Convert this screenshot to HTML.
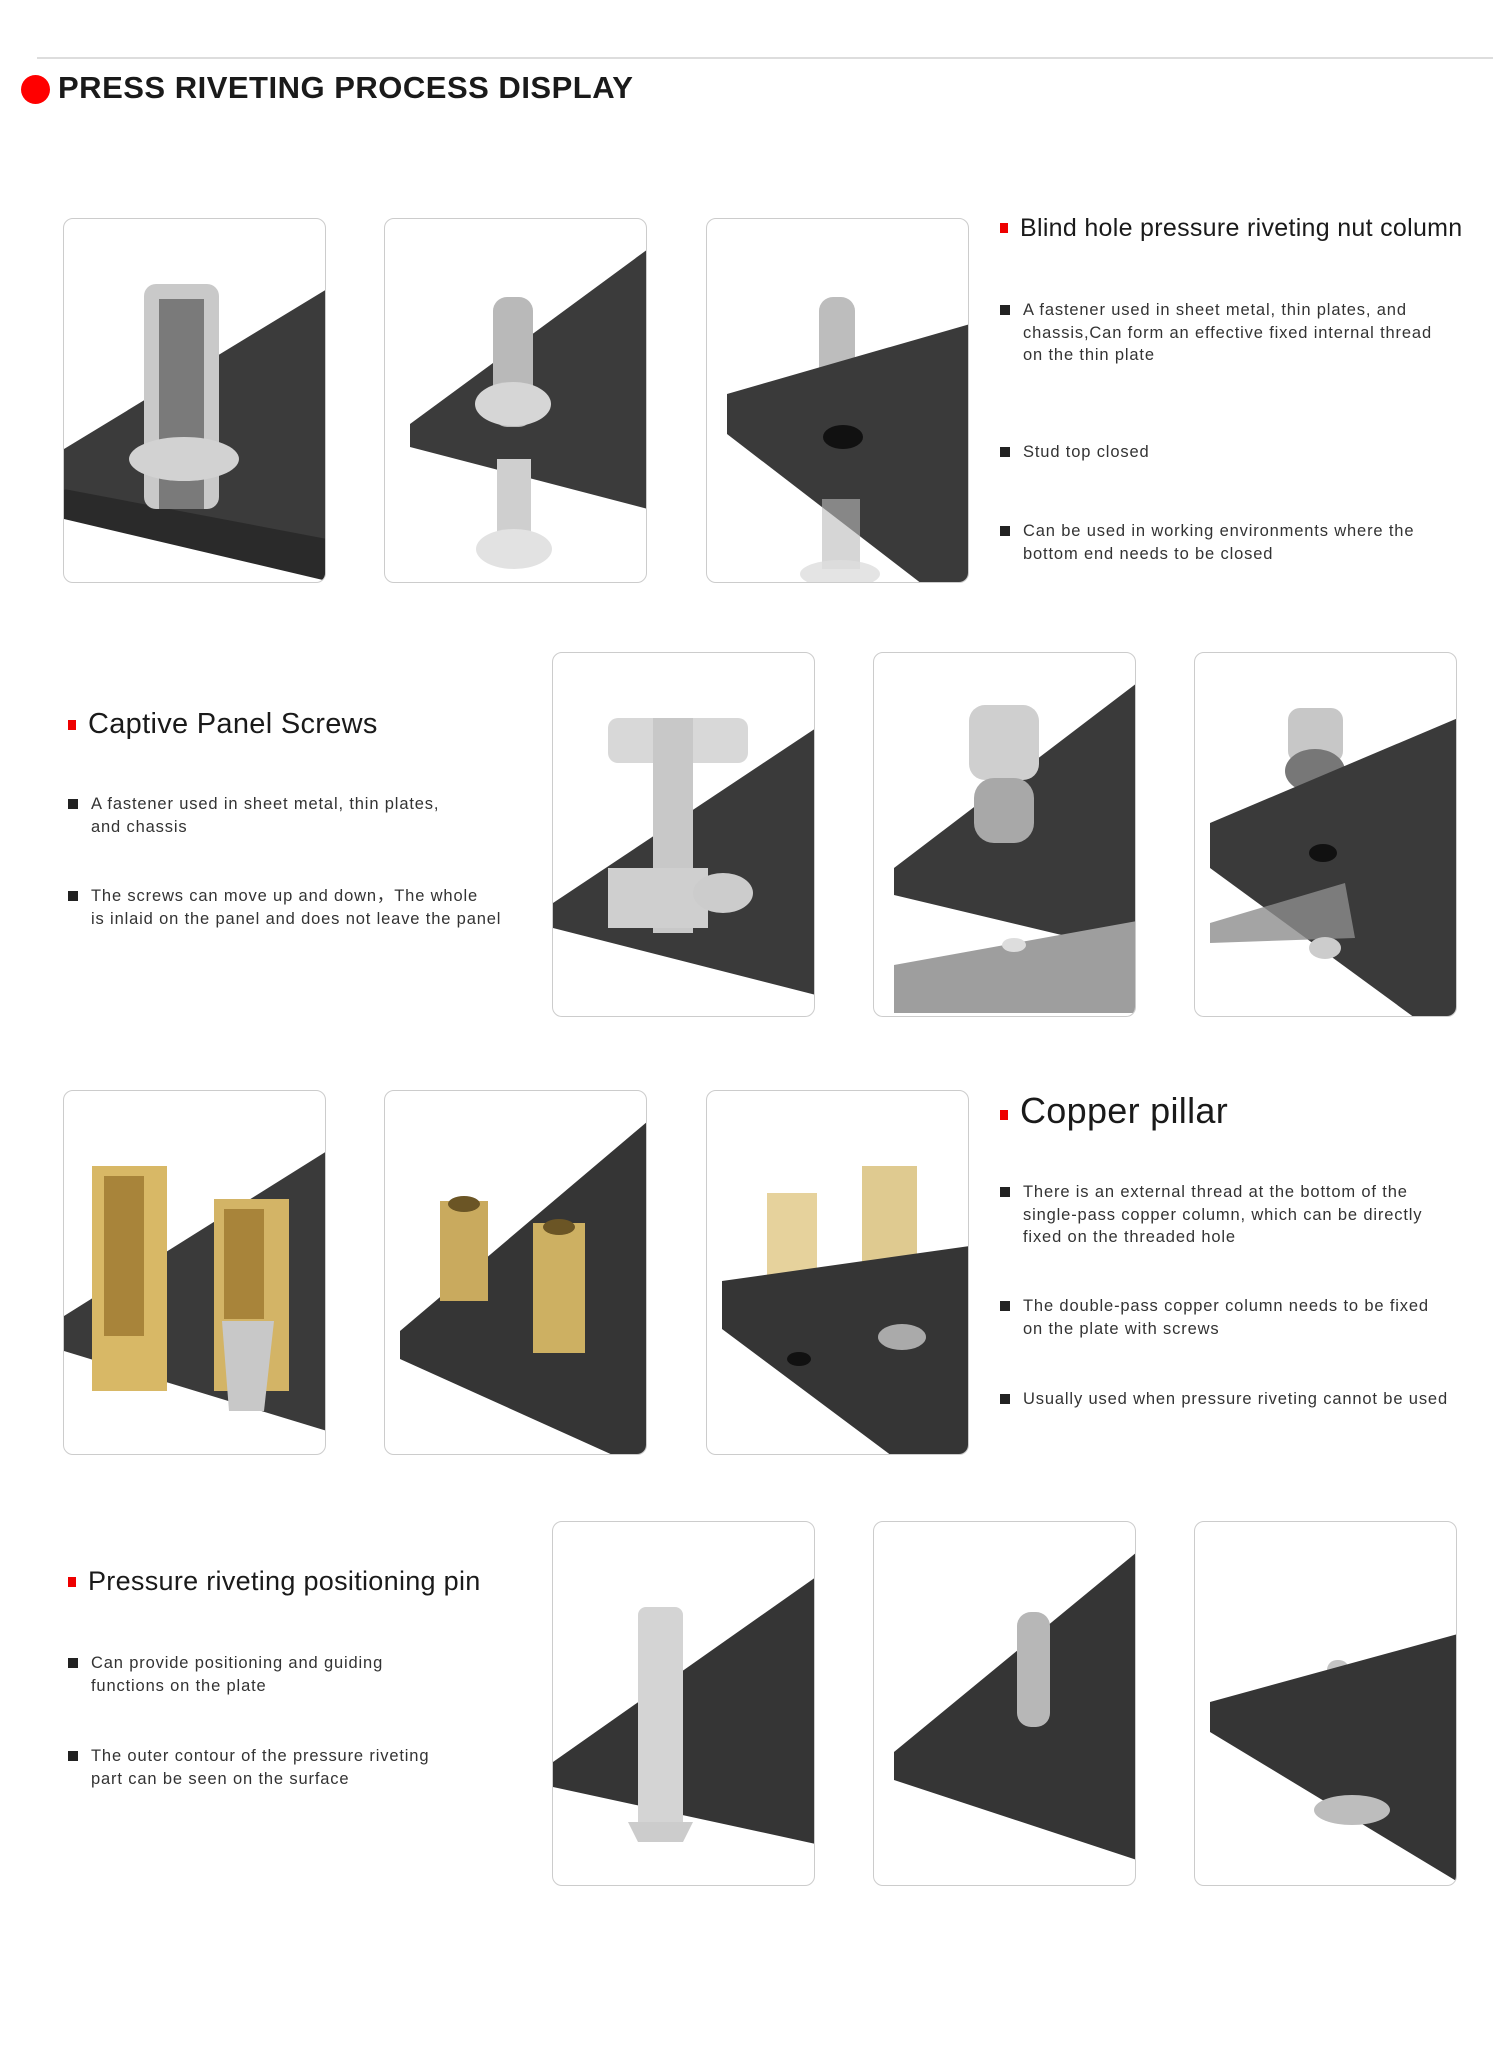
<!DOCTYPE html>
<html><head><meta charset="utf-8">
<style>
*{margin:0;padding:0;box-sizing:border-box}
body{width:1499px;height:2048px;background:#fff;position:relative;overflow:hidden;font-family:"Liberation Sans",sans-serif;color:#222}
.line{position:absolute;left:37px;top:57px;width:1456px;height:2px;background:#ddd}
.dot{position:absolute;left:21px;top:75px;width:29px;height:29px;border-radius:50%;background:#f00}
.title{position:absolute;left:58px;top:70px;font-size:31px;font-weight:bold;letter-spacing:0.5px;color:#1a1a1a}
.card{position:absolute;width:263px;height:365px;border:1.5px solid #ccc;border-radius:10px;overflow:hidden;background:#fff}
.card svg{display:block}
.h{position:absolute;font-size:25px;color:#1a1a1a;white-space:nowrap;letter-spacing:0.3px}
.h::before{content:"";display:inline-block;width:8px;height:10px;background:#e00;margin-right:12px;vertical-align:3px}
.b{position:absolute;font-size:16.5px;line-height:22.5px;color:#333;padding-left:23px;letter-spacing:0.85px;white-space:nowrap}
.b::before{content:"";position:absolute;left:0;top:6px;width:10px;height:10px;background:#222}
</style></head><body>
<div class="line"></div>
<div class="dot"></div>
<div class="title">PRESS RIVETING PROCESS DISPLAY</div>

<!-- row1 -->
<div class="card" style="left:63px;top:218px"><svg width="263" height="365"><polygon points="0,230 263,70 263,362 0,270" fill="#3b3b3b"/><polygon points="0,270 263,320 263,362 0,300" fill="#2a2a2a"/><rect x="80" y="65" width="75" height="225" rx="12" fill="#c9c9c9"/><rect x="95" y="80" width="45" height="210" fill="#7a7a7a"/><ellipse cx="120" cy="240" rx="55" ry="22" fill="#d2d2d2"/></svg></div>
<div class="card" style="left:384px;top:218px"><svg width="263" height="365"><polygon points="25,205 263,30 263,290 25,228" fill="#3b3b3b"/><rect x="108" y="78" width="40" height="130" rx="14" fill="#b9b9b9"/><ellipse cx="128" cy="185" rx="38" ry="22" fill="#d6d6d6"/><rect x="112" y="240" width="34" height="80" fill="#cfcfcf"/><ellipse cx="129" cy="330" rx="38" ry="20" fill="#e2e2e2"/></svg></div>
<div class="card" style="left:706px;top:218px"><svg width="263" height="365"><rect x="112" y="78" width="36" height="100" rx="14" fill="#bdbdbd"/><polygon points="20,175 263,105 263,365 215,365 20,215" fill="#3a3a3a"/><ellipse cx="136" cy="218" rx="20" ry="12" fill="#111"/><rect x="115" y="280" width="38" height="70" fill="#bbb" opacity=".6"/><ellipse cx="133" cy="355" rx="40" ry="14" fill="#ddd" opacity=".8"/></svg></div>
<div class="h" style="left:1000px;top:214px">Blind hole pressure riveting nut column</div>
<div class="b" style="left:1000px;top:299px">A fastener used in sheet metal, thin plates, and<br>chassis,Can form an effective fixed internal thread<br>on the thin plate</div>
<div class="b" style="left:1000px;top:441px">Stud top closed</div>
<div class="b" style="left:1000px;top:520px">Can be used in working environments where the<br>bottom end needs to be closed</div>

<!-- row2 -->
<div class="h" style="left:68px;top:708px;font-size:29px">Captive Panel Screws</div>
<div class="b" style="left:68px;top:793px">A fastener used in sheet metal, thin plates,<br>and chassis</div>
<div class="b" style="left:68px;top:885px">The screws can move up and down，The whole<br>is inlaid on the panel and does not leave the panel</div>
<div class="card" style="left:552px;top:652px"><svg width="263" height="365"><polygon points="0,250 263,75 263,342 0,275" fill="#3a3a3a"/><rect x="55" y="65" width="140" height="45" rx="10" fill="#d8d8d8"/><rect x="100" y="65" width="40" height="215" fill="#c8c8c8"/><rect x="55" y="215" width="100" height="60" fill="#cfcfcf"/><ellipse cx="170" cy="240" rx="30" ry="20" fill="#ccc"/></svg></div>
<div class="card" style="left:873px;top:652px"><svg width="263" height="365"><polygon points="20,215 263,30 263,300 20,242" fill="#3a3a3a"/><polygon points="20,312 263,268 263,360 20,360" fill="#9e9e9e"/><rect x="95" y="52" width="70" height="75" rx="16" fill="#cfcfcf"/><rect x="100" y="125" width="60" height="65" rx="20" fill="#a8a8a8"/><ellipse cx="140" cy="292" rx="12" ry="7" fill="#ddd"/></svg></div>
<div class="card" style="left:1194px;top:652px"><svg width="263" height="365"><rect x="93" y="55" width="55" height="55" rx="12" fill="#c7c7c7"/><ellipse cx="120" cy="118" rx="30" ry="22" fill="#777"/><polygon points="15,170 263,65 263,365 220,365 15,215" fill="#3a3a3a"/><polygon points="15,270 150,230 160,285 15,290" fill="#8d8d8d" opacity=".8"/><ellipse cx="128" cy="200" rx="14" ry="9" fill="#111"/><ellipse cx="130" cy="295" rx="16" ry="11" fill="#ccc"/></svg></div>

<!-- row3 -->
<div class="card" style="left:63px;top:1090px"><svg width="263" height="365"><polygon points="0,225 263,60 263,340 0,260" fill="#3a3a3a"/><rect x="28" y="75" width="75" height="225" fill="#d8b866"/><rect x="40" y="85" width="40" height="160" fill="#a8843a"/><rect x="150" y="108" width="75" height="192" fill="#d3b466"/><rect x="160" y="118" width="40" height="110" fill="#a8843a"/><polygon points="158,230 210,230 200,320 165,320" fill="#c8c8c8"/></svg></div>
<div class="card" style="left:384px;top:1090px"><svg width="263" height="365"><polygon points="15,240 263,30 263,365 230,365 15,268" fill="#353535"/><rect x="55" y="110" width="48" height="100" fill="#c9aa5e"/><ellipse cx="79" cy="113" rx="16" ry="8" fill="#6b5525"/><rect x="148" y="132" width="52" height="130" fill="#cdb062"/><ellipse cx="174" cy="136" rx="16" ry="8" fill="#6b5525"/></svg></div>
<div class="card" style="left:706px;top:1090px"><svg width="263" height="365"><rect x="60" y="102" width="50" height="110" fill="#e6d29c"/><rect x="155" y="75" width="55" height="130" fill="#dfca90"/><polygon points="15,190 263,155 263,365 185,365 15,238" fill="#353535"/><ellipse cx="195" cy="246" rx="24" ry="13" fill="#aaa"/><ellipse cx="92" cy="268" rx="12" ry="7" fill="#111"/></svg></div>
<div class="h" style="left:1000px;top:1090px;font-size:36px">Copper pillar</div>
<div class="b" style="left:1000px;top:1181px">There is an external thread at the bottom of the<br>single-pass copper column, which can be directly<br>fixed on the threaded hole</div>
<div class="b" style="left:1000px;top:1295px">The double-pass copper column needs to be fixed<br>on the plate with screws</div>
<div class="b" style="left:1000px;top:1388px">Usually used when pressure riveting cannot be used</div>

<!-- row4 -->
<div class="h" style="left:68px;top:1566px;font-size:27px">Pressure riveting positioning pin</div>
<div class="b" style="left:68px;top:1652px">Can provide positioning and guiding<br>functions on the plate</div>
<div class="b" style="left:68px;top:1745px">The outer contour of the pressure riveting<br>part can be seen on the surface</div>
<div class="card" style="left:552px;top:1521px"><svg width="263" height="365"><polygon points="0,240 263,55 263,322 0,265" fill="#353535"/><rect x="85" y="85" width="45" height="225" rx="8" fill="#d4d4d4"/><polygon points="75,300 140,300 130,320 85,320" fill="#ccc"/></svg></div>
<div class="card" style="left:873px;top:1521px"><svg width="263" height="365"><polygon points="20,230 263,30 263,338 20,258" fill="#353535"/><rect x="143" y="90" width="33" height="115" rx="14" fill="#b7b7b7"/></svg></div>
<div class="card" style="left:1194px;top:1521px"><svg width="263" height="365"><rect x="132" y="138" width="22" height="70" rx="10" fill="#c4c4c4"/><polygon points="15,180 263,112 263,360 15,210" fill="#353535"/><ellipse cx="157" cy="288" rx="38" ry="15" fill="#bdbdbd"/></svg></div>
</body></html>
